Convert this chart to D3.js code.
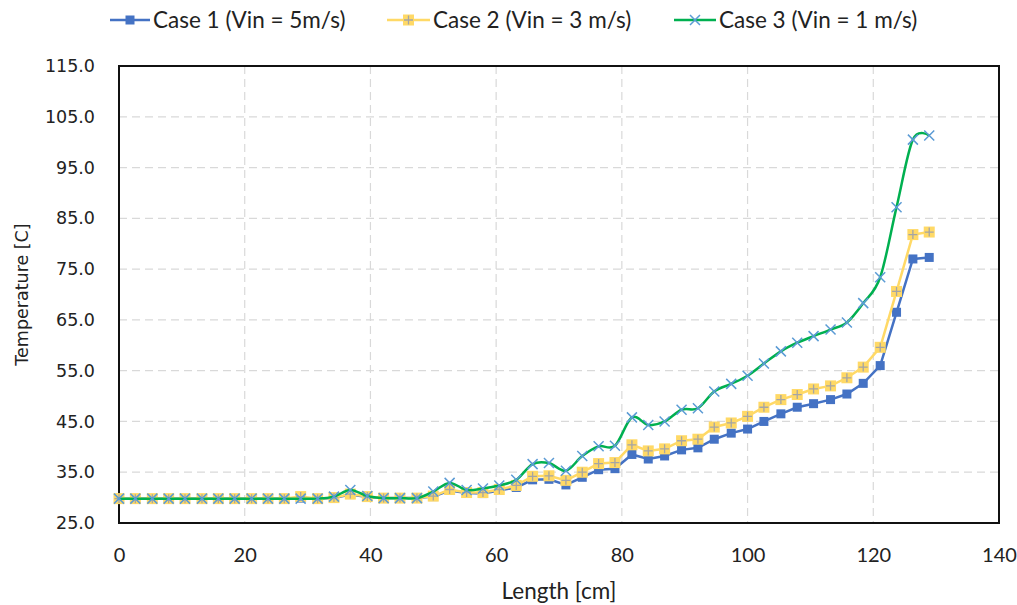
<!DOCTYPE html>
<html>
<head>
<meta charset="utf-8">
<script src="https://cdn.jsdelivr.net/npm/d3@7"></script>
<style>
  html, body { margin: 0; padding: 0; background: #fff; }
  svg { display: block; }
</style>
</head>
<body>
<svg id="chart" width="1017" height="605"></svg>
<script>
// ---- data ----
const lengths = [0, 2.6, 5.3, 7.9, 10.5, 13.2, 15.8, 18.4, 21.1, 23.7, 26.3, 28.9, 31.6, 34.2, 36.8, 39.5, 42.1, 44.7, 47.4, 50.0,
  52.6, 55.3, 57.9, 60.5, 63.2, 65.8, 68.4, 71.1, 73.7, 76.3, 78.9, 81.6, 84.2, 86.8, 89.5, 92.1, 94.7, 97.4, 100.0, 102.6,
  105.3, 107.9, 110.5, 113.2, 115.8, 118.4, 121.1, 123.7, 126.3, 128.9];

const case1 = [29.8, 29.8, 29.8, 29.8, 29.8, 29.8, 29.8, 29.8, 29.8, 29.8, 29.8, 29.9, 29.8, 29.9, 30.6, 30.1, 29.9, 29.9, 29.9, 30.2,
  31.4, 30.9, 30.8, 31.4, 32.0, 33.5, 33.6, 32.5, 34.0, 35.5, 35.7, 38.5, 37.6, 38.2, 39.4, 39.8, 41.5, 42.7, 43.5, 45.0,
  46.5, 47.8, 48.5, 49.3, 50.4, 52.5, 56.0, 66.5, 77.0, 77.3];

const case2 = [29.8, 29.8, 29.8, 29.8, 29.8, 29.8, 29.8, 29.8, 29.8, 29.8, 29.8, 30.2, 29.8, 30.0, 30.7, 30.2, 29.9, 29.9, 29.9, 30.3,
  31.6, 31.0, 31.0, 31.6, 32.4, 34.2, 34.3, 33.4, 35.0, 36.7, 36.9, 40.4, 39.2, 39.6, 41.2, 41.5, 43.9, 44.7, 46.0, 47.8,
  49.3, 50.3, 51.4, 52.0, 53.6, 55.7, 59.6, 70.6, 81.8, 82.3];

const case3 = [29.8, 29.8, 29.8, 29.8, 29.8, 29.8, 29.8, 29.8, 29.8, 29.8, 29.8, 29.8, 29.8, 30.2, 31.5, 30.3, 29.9, 29.9, 29.9, 31.2,
  32.9, 31.5, 31.8, 32.4, 33.5, 36.6, 36.8, 35.3, 38.2, 40.1, 40.2, 45.8, 44.3, 45.0, 47.3, 47.6, 50.9, 52.4, 54.0, 56.4,
  58.8, 60.5, 61.8, 63.1, 64.5, 68.3, 73.4, 87.2, 100.5, 101.3];

const seriesNames = ["Case 1 (Vin = 5m/s)", "Case 2 (Vin = 3 m/s)", "Case 3 (Vin = 1 m/s)"];
const xTicks = [0, 20, 40, 60, 80, 100, 120, 140];
const yTicks = [25, 35, 45, 55, 65, 75, 85, 95, 105, 115];
const xTitle = "Length [cm]";
const yTitle = "Temperature [C]";

// ---- layout ----
const svg = d3.select("#chart");
const L = 119, R = 999, T = 66, B = 523;
const x = d3.scaleLinear().domain([0, 140]).range([L, R]);
const y = d3.scaleLinear().domain([25, 115]).range([B, T]);

const cal = "Lato, 'Open Sans', sans-serif";
const verd = "'DejaVu Sans', Verdana, sans-serif";

// gridlines
const grid = svg.append("g");
grid.selectAll("line.h").data(yTicks.slice(1, -1)).join("line")
  .attr("x1", L).attr("x2", R).attr("y1", d => y(d)).attr("y2", d => y(d))
  .attr("stroke", "#d9d9d9").attr("stroke-width", 1.2).attr("stroke-dasharray", "8,5");
grid.selectAll("line.v").data(xTicks.slice(1, -1)).join("line")
  .attr("y1", T).attr("y2", B).attr("x1", d => x(d)).attr("x2", d => x(d))
  .attr("stroke", "#d9d9d9").attr("stroke-width", 1.2).attr("stroke-dasharray", "8,5");

// axes (labels only)
const xAxis = svg.append("g").attr("transform", `translate(0,${B})`)
  .call(d3.axisBottom(x).tickValues(xTicks).tickSize(0).tickPadding(25).tickFormat(d3.format("d")));
xAxis.select(".domain").remove();
xAxis.selectAll("text").attr("font-family", cal).attr("font-size", 20).attr("fill", "#222");

const yAxis = svg.append("g").attr("transform", `translate(${L},0)`)
  .call(d3.axisLeft(y).tickValues(yTicks).tickSize(0).tickPadding(24).tickFormat(d3.format(".1f")));
yAxis.select(".domain").remove();
yAxis.selectAll("text").attr("font-family", verd).attr("font-size", 17.5).attr("fill", "#222");

// frame
svg.append("rect").attr("x", L).attr("y", T).attr("width", R - L).attr("height", B - T)
  .attr("fill", "none").attr("stroke", "#111").attr("stroke-width", 2);

// titles
svg.append("text").attr("x", (L + R) / 2).attr("y", 599).attr("text-anchor", "middle")
  .attr("font-family", cal).attr("font-size", 22.5).attr("fill", "#222").text(xTitle);
svg.append("text").attr("transform", `translate(28,${(T + B) / 2}) rotate(-90)`).attr("text-anchor", "middle")
  .attr("font-family", verd).attr("font-size", 17.5).attr("fill", "#222").text(yTitle);

// series
const pts = arr => arr.map((v, i) => [lengths[i], v]);
const lineStraight = d3.line().x(d => x(d[0])).y(d => y(d[1]));
const lineSmooth = d3.line().x(d => x(d[0])).y(d => y(d[1])).curve(d3.curveCardinal.tension(0));

const plot = svg.append("g");

// case 1
plot.append("path").datum(pts(case1)).attr("d", lineStraight)
  .attr("fill", "none").attr("stroke", "#4472c4").attr("stroke-width", 2.5);
plot.selectAll("rect.c1").data(pts(case1)).join("rect")
  .attr("x", d => x(d[0]) - 4.5).attr("y", d => y(d[1]) - 4.5).attr("width", 9).attr("height", 9)
  .attr("fill", "#4472c4");

// case 2
plot.append("path").datum(pts(case2)).attr("d", lineStraight)
  .attr("fill", "none").attr("stroke", "#ffd966").attr("stroke-width", 2.5);
const c2 = plot.selectAll("g.c2").data(pts(case2)).join("g")
  .attr("transform", d => `translate(${x(d[0])},${y(d[1])})`);
c2.append("rect").attr("x", -5.5).attr("y", -5.5).attr("width", 11).attr("height", 11).attr("fill", "#ffd966");
c2.append("path").attr("d", "M-4.5,0H4.5M0,-4.5V4.5").attr("stroke", "#a5a5a5").attr("stroke-width", 1.3);

// case 3
plot.append("path").datum(pts(case3)).attr("d", lineSmooth)
  .attr("fill", "none").attr("stroke", "#00b050").attr("stroke-width", 2.5);
plot.selectAll("path.c3").data(pts(case3)).join("path")
  .attr("transform", d => `translate(${x(d[0])},${y(d[1])})`)
  .attr("d", "M-5,-5L5,5M-5,5L5,-5").attr("stroke", "#5b9bd5").attr("stroke-width", 1.5).attr("fill", "none");

// legend
const legY = 20;
const leg = svg.append("g");
const items = [
  { x0: 110, x1: 150, tx: 153, color: "#4472c4", name: seriesNames[0], kind: 1 },
  { x0: 387, x1: 430, tx: 433, color: "#ffd966", name: seriesNames[1], kind: 2 },
  { x0: 674, x1: 716, tx: 719, color: "#00b050", name: seriesNames[2], kind: 3 }
];
items.forEach(it => {
  const g = leg.append("g");
  g.append("line").attr("x1", it.x0).attr("x2", it.x1).attr("y1", legY).attr("y2", legY)
    .attr("stroke", it.color).attr("stroke-width", 2.5);
  const cx = (it.x0 + it.x1) / 2;
  if (it.kind === 1) {
    g.append("rect").attr("x", cx - 4.5).attr("y", legY - 4.5).attr("width", 9).attr("height", 9).attr("fill", "#4472c4");
  } else if (it.kind === 2) {
    g.append("rect").attr("x", cx - 5.5).attr("y", legY - 5.5).attr("width", 11).attr("height", 11).attr("fill", "#ffd966");
    g.append("path").attr("d", `M${cx - 4.5},${legY}H${cx + 4.5}M${cx},${legY - 4.5}V${legY + 4.5}`)
      .attr("stroke", "#a5a5a5").attr("stroke-width", 1.3);
  } else {
    g.append("path").attr("d", `M${cx - 5},${legY - 5}L${cx + 5},${legY + 5}M${cx - 5},${legY + 5}L${cx + 5},${legY - 5}`)
      .attr("stroke", "#5b9bd5").attr("stroke-width", 1.5);
  }
  g.append("text").attr("x", it.tx).attr("y", legY + 8).attr("font-family", cal).attr("font-size", 22.5)
    .attr("fill", "#222").text(it.name);
});
</script>
</body>
</html>
